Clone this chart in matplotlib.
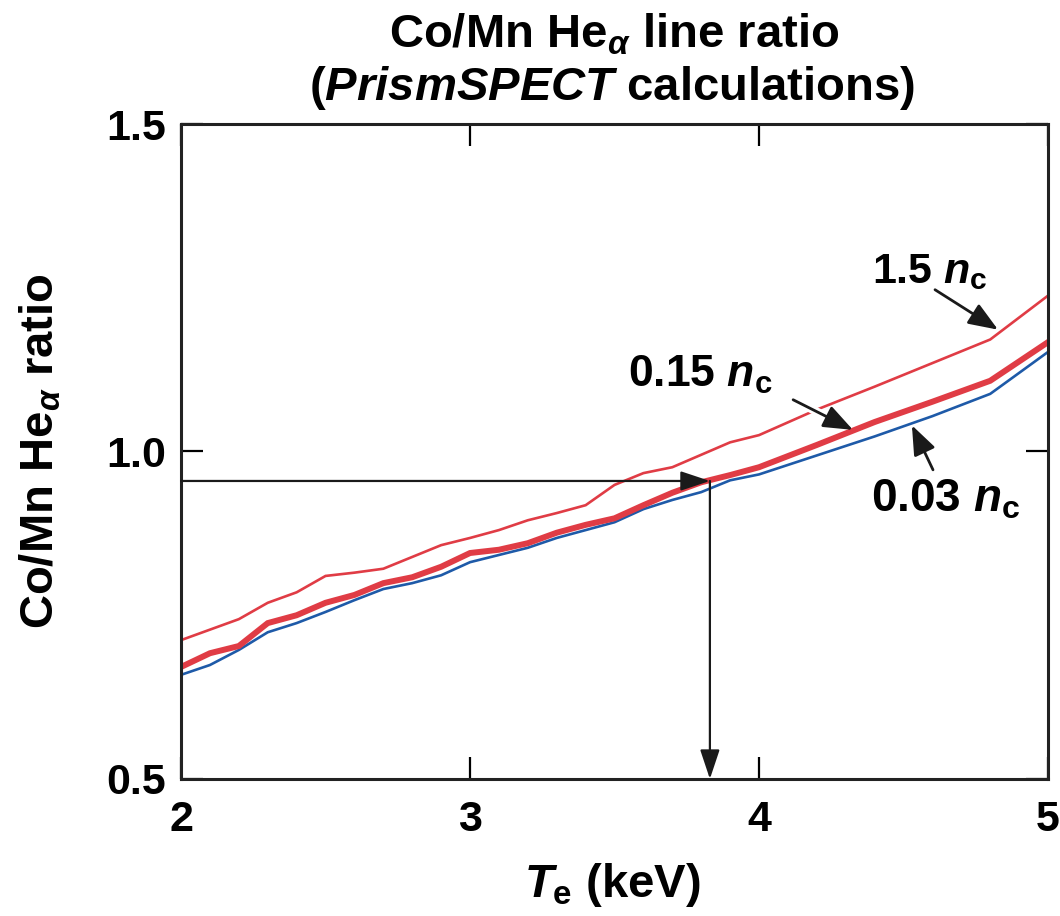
import matplotlib
matplotlib.use("Agg")
import matplotlib.pyplot as plt

plt.rcParams['font.family'] = ['Liberation Sans', 'DejaVu Sans']
plt.rcParams['font.weight'] = 'bold'
plt.rcParams['mathtext.fontset'] = 'custom'
plt.rcParams['mathtext.rm'] = 'Liberation Sans:bold'
plt.rcParams['mathtext.it'] = 'Liberation Sans:bold:italic'
plt.rcParams['mathtext.bf'] = 'Liberation Sans:bold'

# electron temperature (keV)
te = [2.0, 2.1, 2.2, 2.3, 2.4, 2.5, 2.6, 2.7, 2.8, 2.9, 3.0, 3.1, 3.2, 3.3,
      3.4, 3.5, 3.6, 3.7, 3.8, 3.9, 4.0, 4.2, 4.4, 4.6, 4.8, 5.0]
# Co/Mn He-alpha ratio for three densities
r_003 = [0.659, 0.674, 0.697, 0.724, 0.738, 0.755, 0.773, 0.790, 0.799, 0.811,
         0.831, 0.842, 0.853, 0.868, 0.880, 0.892, 0.912, 0.926, 0.938, 0.956,
         0.965, 0.994, 1.023, 1.054, 1.088, 1.152]
r_015 = [0.671, 0.692, 0.703, 0.738, 0.750, 0.769, 0.781, 0.799, 0.808, 0.824,
         0.845, 0.850, 0.860, 0.876, 0.888, 0.898, 0.918, 0.937, 0.953, 0.964,
         0.976, 1.010, 1.045, 1.076, 1.108, 1.167]
r_15 = [0.712, 0.728, 0.744, 0.769, 0.785, 0.810, 0.815, 0.821, 0.839, 0.857,
        0.868, 0.880, 0.895, 0.906, 0.918, 0.949, 0.967, 0.976, 0.995, 1.014,
        1.025, 1.064, 1.099, 1.135, 1.171, 1.238]

meas_ratio = 0.955
meas_te = 3.83

red = '#E03C45'
blue = '#1E5AA8'

fig = plt.figure(figsize=(10.6, 9.16), dpi=100)
ax = fig.add_axes((0.1708, 0.1496, 0.8179, 0.715))

ax.plot(te, r_003, color=blue, lw=1.9, solid_joinstyle='miter')
ax.plot(te, r_015, color=red, lw=4.3, solid_joinstyle='miter')
ax.plot(te, r_15, color=red, lw=1.9, solid_joinstyle='miter')

ax.set_xlim(2, 5)
ax.set_ylim(0.5, 1.5)
ax.set_xticks([2, 3, 4, 5])
ax.set_yticks([0.5, 1.0, 1.5])
ax.set_yticklabels(['0.5', '1.0', '1.5'])
ax.tick_params(direction='in', length=16, width=1.6, labelsize=31,
               top=True, right=True)
ax.tick_params(axis='x', pad=15)
ax.tick_params(axis='y', pad=11)
for lab in ax.get_xticklabels() + ax.get_yticklabels():
    lab.set_fontweight('bold')
for sp in ax.spines.values():
    sp.set_linewidth(2.2)
    sp.set_color('#222222')

# read-off arrows
arr = dict(arrowstyle='-|>,head_length=1.8,head_width=0.6', color='#1a1a1a',
           lw=1.6, shrinkA=0, shrinkB=0)
ax.annotate('', xy=(meas_te, meas_ratio), xytext=(2.0, meas_ratio),
            arrowprops=arr)
ax.annotate('', xy=(meas_te, 0.5), xytext=(meas_te, meas_ratio),
            arrowprops=arr)

# curve labels: white gap under the shaft, then the black arrow
halo = dict(arrowstyle='-', color='white', lw=6, shrinkA=0, shrinkB=14)
lab_arr = dict(arrowstyle='-|>,head_length=1.8,head_width=0.7', color='#1a1a1a',
               lw=2.0, shrinkA=0, shrinkB=0)
label_arrows = [((4.827, 1.186), (4.609, 1.247)),
                ((4.325, 1.033), (4.118, 1.079)),
                ((4.529, 1.040), (4.602, 0.972))]
for tip, tail in label_arrows:
    ax.annotate('', xy=tip, xytext=tail, arrowprops=halo)
    ax.annotate('', xy=tip, xytext=tail, arrowprops=lab_arr)
ax.text(4.592, 1.274, r'1.5 $n_\mathrm{c}$', fontsize=31, ha='center', va='center')
ax.text(3.796, 1.117, r'0.15 $n_\mathrm{c}$', fontsize=32, ha='center', va='center')
ax.text(4.644, 0.926, r'0.03 $n_\mathrm{c}$', fontsize=33, ha='center', va='center')

fig.text(0.579, 0.962, r'Co/Mn He$_\alpha$ line ratio', fontsize=34,
         ha='center', va='center')
fig.text(0.577, 0.904, r'($PrismSPECT$ calculations)', fontsize=34,
         ha='center', va='center')
fig.text(0.038, 0.507, r'Co/Mn He$_\alpha$ ratio', fontsize=34, rotation=90,
         ha='center', va='center')
fig.text(0.578, 0.034, r'$T_\mathrm{e}$ (keV)', fontsize=34,
         ha='center', va='center')

fig.savefig('out.png', dpi=100)
